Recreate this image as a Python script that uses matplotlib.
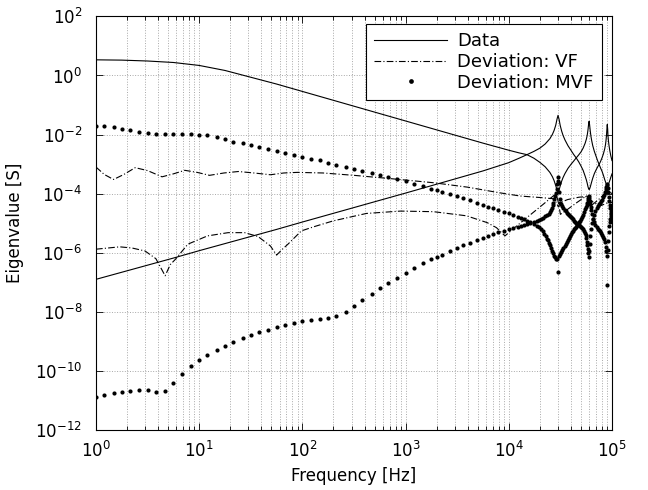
import matplotlib
matplotlib.use("Agg")
import matplotlib.pyplot as plt
from matplotlib.ticker import FixedLocator, LogFormatterSciNotation, LogLocator, NullLocator
import numpy as np

plt.rcParams['font.family'] = ['DejaVu Sans']
plt.rcParams['mathtext.default'] = 'regular'

# all values are log10 (frequency in Hz, eigenvalue in S)

# frequency samples for the two Data curves
data_lf = [0.0, 0.25, 0.5, 0.75, 1.0, 1.25, 1.5, 1.75, 2.0, 2.5, 3.0, 3.5, 3.75, 4.0, 4.1,
           4.176, 4.243, 4.301, 4.352, 4.398, 4.423, 4.439, 4.455, 4.467, 4.477, 4.487, 4.498,
           4.512, 4.525, 4.544, 4.574, 4.602, 4.628, 4.653, 4.677, 4.699, 4.720, 4.740, 4.752,
           4.760, 4.767, 4.773, 4.778, 4.783, 4.789, 4.796, 4.803, 4.813, 4.829, 4.845, 4.860,
           4.875, 4.889, 4.903, 4.916, 4.929, 4.937, 4.942, 4.947, 4.951, 4.954, 4.958, 4.961,
           4.966, 4.971, 4.978, 4.989, 5.0]

# Data: falling eigenvalue
data_f_ly = [0.53, 0.52, 0.49, 0.44, 0.34, 0.17, -0.06, -0.29, -0.54, -1.04, -1.54, -2.04, -2.29, -2.53, -2.62,
             -2.68, -2.80, -2.94, -3.09, -3.28, -3.43, -3.56, -3.73, -3.88, -3.95, -3.88, -3.74,
             -3.58, -3.46, -3.32, -3.14, -3.01, -2.90, -2.79, -2.69, -2.59, -2.46, -2.29, -2.15,
             -2.02, -1.85, -1.66, -1.55, -1.67, -1.87, -2.06, -2.20, -2.37, -2.57, -2.73, -2.88,
             -3.01, -3.13, -3.24, -3.37, -3.52, -3.60, -3.65, -3.69, -3.71, -3.72, -3.72, -3.70,
             -3.67, -3.63, -3.56, -3.44, -3.33]

# Data: rising eigenvalue
data_r_ly = [-6.90, -6.66, -6.42, -6.18, -5.93, -5.69, -5.45, -5.21, -4.96, -4.47, -3.98, -3.48, -3.23, -2.95, -2.80,
             -2.68, -2.57, -2.46, -2.32, -2.14, -1.99, -1.86, -1.68, -1.48, -1.35, -1.48, -1.69,
             -1.88, -2.02, -2.18, -2.38, -2.53, -2.67, -2.79, -2.92, -3.06, -3.21, -3.41, -3.54,
             -3.65, -3.76, -3.83, -3.86, -3.84, -3.78, -3.69, -3.60, -3.48, -3.32, -3.20, -3.10,
             -3.01, -2.91, -2.79, -2.66, -2.49, -2.34, -2.20, -2.01, -1.80, -1.66, -1.81, -2.03,
             -2.23, -2.37, -2.53, -2.73, -2.88]

# Deviation VF (two curves)
vf_f_lf = [0.0, 0.08, 0.17, 0.27, 0.38, 0.5, 0.64, 0.75, 0.86, 0.98, 1.10, 1.24, 1.38, 1.53,
           1.69, 1.82, 1.95, 2.2, 2.5, 2.85, 3.27, 3.6, 3.91, 4.11, 4.3, 4.43, 4.46, 4.48,
           4.50, 4.57, 4.68, 4.75, 4.80, 4.88, 4.93, 4.96, 5.0]
vf_f_ly = [-3.10, -3.35, -3.52, -3.35, -3.12, -3.22, -3.43, -3.33, -3.21, -3.28, -3.38, -3.30, -3.25, -3.30,
           -3.36, -3.30, -3.28, -3.30, -3.38, -3.49, -3.63, -3.78, -3.97, -4.08, -4.13, -4.17, -4.30, -4.45,
           -4.30, -4.20, -4.12, -4.10, -4.25, -4.42, -4.35, -4.30, -4.30]

vf_r_lf = [0.0, 0.23, 0.35, 0.475, 0.58, 0.67, 0.72, 0.77, 0.89, 1.08, 1.28, 1.44, 1.57, 1.69,
           1.75, 1.80, 1.86, 1.99, 2.12, 2.30, 2.62, 2.95, 3.27, 3.59, 3.79, 3.88, 3.963, 4.05,
           4.2, 4.33, 4.43, 4.46, 4.48, 4.50, 4.57, 4.66, 4.75, 4.77, 4.80, 4.87, 4.93, 4.96, 5.0]
vf_r_ly = [-5.88, -5.80, -5.84, -5.94, -6.20, -6.78, -6.40, -6.22, -5.71, -5.43, -5.32, -5.32, -5.45, -5.77,
           -6.08, -5.90, -5.71, -5.26, -5.11, -4.92, -4.67, -4.59, -4.61, -4.75, -4.98, -5.15, -5.43, -5.17,
           -4.74, -4.37, -4.08, -4.00, -4.30, -4.70, -4.53, -4.30, -4.08, -4.10, -4.40, -4.20, -4.00, -3.90, -4.00]

# Deviation MVF: shared frequency samples below 10^4.1
mvf_lf = [0.00, 0.08, 0.17, 0.25, 0.33, 0.42, 0.50, 0.58, 0.67, 0.75, 0.83, 0.92, 1.00,
          1.08, 1.17, 1.25, 1.33, 1.42, 1.50, 1.58, 1.67, 1.75, 1.83, 1.92, 2.00,
          2.08, 2.17, 2.25, 2.33, 2.42, 2.50, 2.58, 2.67, 2.75, 2.83, 2.92, 3.00, 3.08, 3.17,
          3.25, 3.30, 3.35, 3.43, 3.50, 3.56, 3.62, 3.69, 3.75, 3.80, 3.85, 3.90, 3.95, 4.00, 4.04, 4.09]
mvf_f_ly = [-1.70, -1.72, -1.75, -1.80, -1.85, -1.91, -1.96, -1.98, -1.99, -1.99, -1.99, -1.99, -2.00,
            -2.03, -2.09, -2.16, -2.24, -2.30, -2.36, -2.43, -2.50, -2.56, -2.63, -2.69, -2.75,
            -2.81, -2.87, -2.97, -3.03, -3.09, -3.16, -3.22, -3.30, -3.37, -3.43, -3.49, -3.57, -3.68, -3.75,
            -3.83, -3.89, -3.93, -4.02, -4.09, -4.16, -4.23, -4.32, -4.38, -4.44, -4.50, -4.55, -4.61, -4.66, -4.72, -4.78]
mvf_r_ly = [-10.88, -10.83, -10.76, -10.71, -10.67, -10.63, -10.66, -10.70, -10.69, -10.41, -10.12, -9.85, -9.63,
            -9.45, -9.29, -9.14, -9.01, -8.90, -8.79, -8.69, -8.61, -8.53, -8.44, -8.37, -8.32,
            -8.28, -8.25, -8.22, -8.14, -7.99, -7.79, -7.59, -7.40, -7.20, -7.03, -6.85, -6.67, -6.52, -6.36,
            -6.22, -6.15, -6.08, -5.94, -5.83, -5.75, -5.66, -5.58, -5.51, -5.45, -5.38, -5.31, -5.25, -5.20, -5.16, -5.12]

# Deviation MVF above 10^4.1 (dense samples around the resonances)
mvf_f_hi_lf = [4.12, 4.15, 4.18, 4.21, 4.24, 4.27, 4.29, 4.31, 4.33, 4.345, 4.36, 4.37, 4.38, 4.39, 4.40,
               4.41, 4.42, 4.43, 4.44, 4.45, 4.46, 4.467, 4.48,
               4.49, 4.50, 4.51, 4.52, 4.53, 4.54, 4.55, 4.56, 4.57, 4.58, 4.59, 4.60, 4.61, 4.62, 4.63,
               4.64, 4.65, 4.66, 4.67, 4.68, 4.69, 4.70, 4.71, 4.72, 4.73, 4.74, 4.75, 4.755, 4.76, 4.765,
               4.77, 4.775, 4.78, 4.785, 4.79, 4.795, 4.80, 4.81, 4.82, 4.83, 4.84, 4.85, 4.86, 4.87,
               4.88, 4.89, 4.90, 4.91, 4.92, 4.93, 4.94, 4.945, 4.95, 4.955, 4.96, 4.965, 4.97, 4.975,
               4.98, 4.985, 4.99, 4.995, 5.0]
mvf_f_hi_ly = [-4.82, -4.87, -4.92, -4.97, -5.03, -5.09, -5.14, -5.21, -5.28, -5.36, -5.45, -5.52, -5.58, -5.66, -5.75,
               -5.84, -5.94, -6.02, -6.10, -6.16, -6.20, -6.22, -6.64,
               -6.12, -6.05, -5.99, -5.92, -5.85, -5.78, -5.70, -5.63, -5.56, -5.49, -5.42, -5.36, -5.30, -5.25, -5.20,
               -5.16, -5.12, -5.07, -5.02, -4.97, -4.92, -4.86, -4.80, -4.71, -4.62, -4.53, -4.45, -4.37, -4.30, -4.22,
               -4.15, -4.08, -4.15, -4.25, -4.35, -4.45, -4.55, -4.70, -4.85, -4.95, -5.05, -5.12, -5.18, -5.23,
               -5.28, -5.33, -5.40, -5.47, -5.55, -5.65, -5.80, -5.95, -6.10, -7.09, -5.90, -5.60, -5.30, -5.10,
               -4.95, -4.85, -4.75, -4.65, -4.55]

mvf_r_hi_lf = [4.12, 4.15, 4.18, 4.21, 4.24, 4.27, 4.29, 4.31, 4.33, 4.35, 4.37, 4.385, 4.40, 4.41, 4.42,
               4.425, 4.43, 4.44, 4.45, 4.457, 4.463, 4.47, 4.475, 4.48,
               4.485, 4.49, 4.495, 4.50, 4.51, 4.52, 4.53, 4.54, 4.55, 4.56, 4.57, 4.58, 4.59, 4.60, 4.61,
               4.62, 4.63, 4.64, 4.65, 4.66, 4.67, 4.68, 4.69, 4.70, 4.71, 4.72, 4.73, 4.74, 4.745, 4.75,
               4.755, 4.76, 4.765, 4.77, 4.775, 4.78, 4.785, 4.79, 4.80, 4.81, 4.82, 4.83, 4.84, 4.85, 4.86,
               4.87, 4.88, 4.89, 4.90, 4.91, 4.92, 4.93, 4.94, 4.945, 4.95, 4.955, 4.96, 4.965, 4.97, 4.975,
               4.98, 4.985, 4.99, 4.995, 5.0]
mvf_r_hi_ly = [-5.10, -5.07, -5.03, -4.99, -4.96, -4.92, -4.88, -4.85, -4.82, -4.77, -4.73, -4.69, -4.62, -4.57, -4.50,
               -4.40, -4.30, -4.19, -4.08, -3.97, -3.83, -3.69, -3.56, -3.43,
               -3.65, -3.95, -4.19, -4.30, -4.36, -4.43, -4.50, -4.55, -4.60, -4.64, -4.68, -4.72, -4.76, -4.80, -4.84,
               -4.87, -4.91, -4.95, -4.98, -5.02, -5.05, -5.07, -5.09, -5.13, -5.17, -5.20, -5.26, -5.32, -5.40, -5.50,
               -5.62, -5.75, -5.88, -6.02, -6.16, -5.95, -5.70, -5.45, -5.20, -5.00, -4.85, -4.72, -4.60, -4.50, -4.42,
               -4.35, -4.30, -4.25, -4.20, -4.12, -4.05, -3.95, -3.85, -3.78, -3.72, -3.69, -3.80, -3.95, -4.10, -4.25,
               -4.40, -4.50, -4.60, -4.70, -4.80]


def p(v):
    return 10.0 ** np.asarray(v)


fig = plt.figure(figsize=(6.48, 4.90), dpi=100)
ax = fig.add_axes([96 / 648, 1 - 430 / 490, 516 / 648, 413.6 / 490])

ln_kw = dict(color='black', lw=0.8)
dot_kw = dict(color='black', ls='none', marker='o', ms=3.0, mew=0)

ax.plot(p(data_lf), p(data_f_ly), '-', label='Data', **ln_kw)
ax.plot(p(data_lf), p(data_r_ly), '-', **ln_kw)
ax.plot(p(vf_f_lf), p(vf_f_ly), '-.', label='Deviation: VF', dashes=(6, 2, 1, 2), **ln_kw)
ax.plot(p(vf_r_lf), p(vf_r_ly), '-.', dashes=(6, 2, 1, 2), **ln_kw)
ax.plot(p(mvf_lf), p(mvf_f_ly), label='Deviation: MVF', **dot_kw)
ax.plot(p(mvf_lf), p(mvf_r_ly), **dot_kw)
ax.plot(p(mvf_f_hi_lf), p(mvf_f_hi_ly), **dot_kw)
ax.plot(p(mvf_r_hi_lf), p(mvf_r_hi_ly), **dot_kw)

ax.set_xscale('log')
ax.set_yscale('log')
ax.set_xlim(1, 1e5)
ax.set_ylim(1e-12, 1e2)

ax.xaxis.set_major_locator(LogLocator(base=10, numticks=10))
ax.xaxis.set_minor_locator(LogLocator(base=10, subs=np.arange(2, 10), numticks=20))
ax.yaxis.set_major_locator(FixedLocator([1e-12, 1e-10, 1e-8, 1e-6, 1e-4, 1e-2, 1e0, 1e2]))
ax.yaxis.set_major_formatter(LogFormatterSciNotation(base=10))
ax.yaxis.set_minor_locator(NullLocator())

ax.tick_params(which='both', direction='in', top=True, right=True, labelsize=12, width=0.6)
ax.tick_params(which='major', length=5)
ax.tick_params(which='minor', length=3)
ax.tick_params(axis='x', pad=8)
ax.tick_params(axis='y', pad=10)

ax.grid(True, which='major', ls=':', color='#a8a8a8', lw=0.7)
ax.grid(True, which='minor', axis='x', ls=':', color='#a8a8a8', lw=0.7)
for s in ax.spines.values():
    s.set_linewidth(0.8)

ax.set_xlabel('Frequency [Hz]', fontsize=12, labelpad=4)
ax.set_ylabel('Eigenvalue [S]', fontsize=12, labelpad=8)

leg = ax.legend(loc='upper right', bbox_to_anchor=(0.9806, 0.9816), borderaxespad=0,
                fontsize=13, numpoints=1, handlelength=4.0, handletextpad=0.6,
                labelspacing=0.15, borderpad=0.45, fancybox=False, framealpha=1)
leg.get_frame().set_edgecolor('black')
leg.get_frame().set_linewidth(0.8)
for h in leg.legend_handles:
    if h.get_marker() == 'o':
        h.set_markersize(3.4)

fig.savefig('out.png', dpi=100)
